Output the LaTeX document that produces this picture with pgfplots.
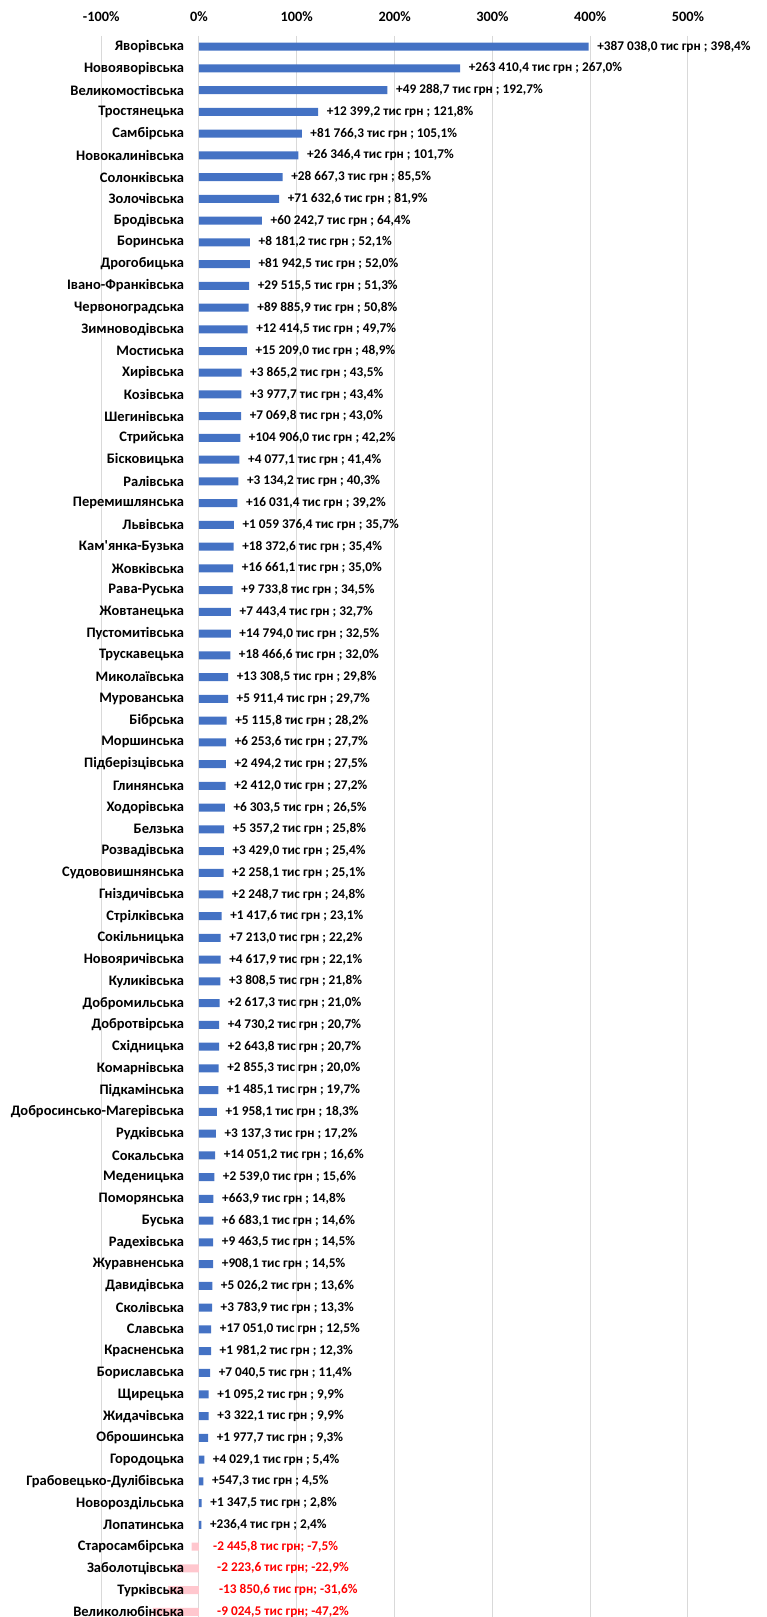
\documentclass[border=0pt]{standalone}
\usepackage{pgfplots}
\pgfplotsset{compat=1.18}
\usepackage{pgfplotstable}
\usepackage{fontspec}
\setmainfont{Carlito}

\definecolor{barblue}{HTML}{4472C4}
\definecolor{barpink}{HTML}{FFC7CE}
\definecolor{gridgray}{HTML}{D9D9D9}
\definecolor{labred}{HTML}{FF0000}

% tick labels above the bars (the pink bars run under the names)
\pgfplotsset{
  layers/labelsontop/.define layer set={
    axis background,axis grid,axis ticks,axis lines,
    pre main,main,axis tick labels,axis descriptions,axis foreground
  }{
    grid style={/pgfplots/on layer=axis grid},
    tick style={/pgfplots/on layer=axis ticks},
    axis line style={/pgfplots/on layer=axis lines},
    label style={/pgfplots/on layer=axis descriptions},
    legend style={/pgfplots/on layer=axis descriptions},
    title style={/pgfplots/on layer=axis descriptions},
    colorbar style={/pgfplots/on layer=axis descriptions},
    ticklabel style={/pgfplots/on layer=axis tick labels},
    axis background@ style={/pgfplots/on layer=axis background},
    3d box foreground style={/pgfplots/on layer=axis foreground},
  },
}

% growth in %, row index from the top, label beside the bar
% (commas and semicolons braced: pgfplots splits its point stream on them)
\pgfplotstableread{
idx val label
0 398.4 {+387 038{,}0 тис грн {;} 398{,}4\%}
1 267.0 {+263 410{,}4 тис грн {;} 267{,}0\%}
2 192.7 {+49 288{,}7 тис грн {;} 192{,}7\%}
3 121.8 {+12 399{,}2 тис грн {;} 121{,}8\%}
4 105.1 {+81 766{,}3 тис грн {;} 105{,}1\%}
5 101.7 {+26 346{,}4 тис грн {;} 101{,}7\%}
6 85.5 {+28 667{,}3 тис грн {;} 85{,}5\%}
7 81.9 {+71 632{,}6 тис грн {;} 81{,}9\%}
8 64.4 {+60 242{,}7 тис грн {;} 64{,}4\%}
9 52.1 {+8 181{,}2 тис грн {;} 52{,}1\%}
10 52.0 {+81 942{,}5 тис грн {;} 52{,}0\%}
11 51.3 {+29 515{,}5 тис грн {;} 51{,}3\%}
12 50.8 {+89 885{,}9 тис грн {;} 50{,}8\%}
13 49.7 {+12 414{,}5 тис грн {;} 49{,}7\%}
14 48.9 {+15 209{,}0 тис грн {;} 48{,}9\%}
15 43.5 {+3 865{,}2 тис грн {;} 43{,}5\%}
16 43.4 {+3 977{,}7 тис грн {;} 43{,}4\%}
17 43.0 {+7 069{,}8 тис грн {;} 43{,}0\%}
18 42.2 {+104 906{,}0 тис грн {;} 42{,}2\%}
19 41.4 {+4 077{,}1 тис грн {;} 41{,}4\%}
20 40.3 {+3 134{,}2 тис грн {;} 40{,}3\%}
21 39.2 {+16 031{,}4 тис грн {;} 39{,}2\%}
22 35.7 {+1 059 376{,}4 тис грн {;} 35{,}7\%}
23 35.4 {+18 372{,}6 тис грн {;} 35{,}4\%}
24 35.0 {+16 661{,}1 тис грн {;} 35{,}0\%}
25 34.5 {+9 733{,}8 тис грн {;} 34{,}5\%}
26 32.7 {+7 443{,}4 тис грн {;} 32{,}7\%}
27 32.5 {+14 794{,}0 тис грн {;} 32{,}5\%}
28 32.0 {+18 466{,}6 тис грн {;} 32{,}0\%}
29 29.8 {+13 308{,}5 тис грн {;} 29{,}8\%}
30 29.7 {+5 911{,}4 тис грн {;} 29{,}7\%}
31 28.2 {+5 115{,}8 тис грн {;} 28{,}2\%}
32 27.7 {+6 253{,}6 тис грн {;} 27{,}7\%}
33 27.5 {+2 494{,}2 тис грн {;} 27{,}5\%}
34 27.2 {+2 412{,}0 тис грн {;} 27{,}2\%}
35 26.5 {+6 303{,}5 тис грн {;} 26{,}5\%}
36 25.8 {+5 357{,}2 тис грн {;} 25{,}8\%}
37 25.4 {+3 429{,}0 тис грн {;} 25{,}4\%}
38 25.1 {+2 258{,}1 тис грн {;} 25{,}1\%}
39 24.8 {+2 248{,}7 тис грн {;} 24{,}8\%}
40 23.1 {+1 417{,}6 тис грн {;} 23{,}1\%}
41 22.2 {+7 213{,}0 тис грн {;} 22{,}2\%}
42 22.1 {+4 617{,}9 тис грн {;} 22{,}1\%}
43 21.8 {+3 808{,}5 тис грн {;} 21{,}8\%}
44 21.0 {+2 617{,}3 тис грн {;} 21{,}0\%}
45 20.7 {+4 730{,}2 тис грн {;} 20{,}7\%}
46 20.7 {+2 643{,}8 тис грн {;} 20{,}7\%}
47 20.0 {+2 855{,}3 тис грн {;} 20{,}0\%}
48 19.7 {+1 485{,}1 тис грн {;} 19{,}7\%}
49 18.3 {+1 958{,}1 тис грн {;} 18{,}3\%}
50 17.2 {+3 137{,}3 тис грн {;} 17{,}2\%}
51 16.6 {+14 051{,}2 тис грн {;} 16{,}6\%}
52 15.6 {+2 539{,}0 тис грн {;} 15{,}6\%}
53 14.8 {+663{,}9 тис грн {;} 14{,}8\%}
54 14.6 {+6 683{,}1 тис грн {;} 14{,}6\%}
55 14.5 {+9 463{,}5 тис грн {;} 14{,}5\%}
56 14.5 {+908{,}1 тис грн {;} 14{,}5\%}
57 13.6 {+5 026{,}2 тис грн {;} 13{,}6\%}
58 13.3 {+3 783{,}9 тис грн {;} 13{,}3\%}
59 12.5 {+17 051{,}0 тис грн {;} 12{,}5\%}
60 12.3 {+1 981{,}2 тис грн {;} 12{,}3\%}
61 11.4 {+7 040{,}5 тис грн {;} 11{,}4\%}
62 9.9 {+1 095{,}2 тис грн {;} 9{,}9\%}
63 9.9 {+3 322{,}1 тис грн {;} 9{,}9\%}
64 9.3 {+1 977{,}7 тис грн {;} 9{,}3\%}
65 5.4 {+4 029{,}1 тис грн {;} 5{,}4\%}
66 4.5 {+547{,}3 тис грн {;} 4{,}5\%}
67 2.8 {+1 347{,}5 тис грн {;} 2{,}8\%}
68 2.4 {+236{,}4 тис грн {;} 2{,}4\%}
}\posdata

\pgfplotstableread{
idx val
69 -7.5
70 -22.9
71 -31.6
72 -47.2
}\negdata

\begin{document}
\begin{tikzpicture}
\begin{axis}[
  set layers=labelsontop,
  scale only axis,
  width=665.8pt, height=1587pt,
  xmin=-100, xmax=580.8,
  ymin=-0.5, ymax=72.5,
  y dir=reverse,
  axis line style={draw=none},
  major tick length=0pt,
  xtick={-100,0,100,200,300,400,500},
  xticklabels={-100\%,0\%,100\%,200\%,300\%,400\%,500\%},
  xticklabel pos=upper,
  xticklabel style={font=\fontsize{14.3}{16}\selectfont\bfseries, anchor=center, yshift=18.8pt},
  ytick={0,...,72},
  yticklabels={Яворівська,Новояворівська,Великомостівська,Тростянецька,Самбірська,
    Новокалинівська,Солонківська,Золочівська,Бродівська,Боринська,Дрогобицька,
    Івано-Франківська,Червоноградська,Зимноводівська,Мостиська,Хирівська,Козівська,
    Шегинівська,Стрийська,Бісковицька,Ралівська,Перемишлянська,Львівська,
    Кам\textquotesingle янка-Бузька,Жовківська,Рава-Руська,Жовтанецька,Пустомитівська,Трускавецька,
    Миколаївська,Мурованська,Бібрська,Моршинська,Підберізцівська,Глинянська,
    Ходорівська,Белзька,Розвадівська,Судововишнянська,Гніздичівська,Стрілківська,
    Сокільницька,Новояричівська,Куликівська,Добромильська,Добротвірська,Східницька,
    Комарнівська,Підкамінська,Добросинсько-Магерівська,Рудківська,Сокальська,
    Меденицька,Поморянська,Буська,Радехівська,Журавненська,Давидівська,Сколівська,
    Славська,Красненська,Бориславська,Щирецька,Жидачівська,Оброшинська,Городоцька,
    Грабовецько-Дулібівська,Новороздільська,Лопатинська,Старосамбірська,
    Заболотцівська,Турківська,Великолюбінська},
  yticklabel style={font=\fontsize{14.5}{16}\selectfont\bfseries, anchor=east, inner sep=0pt, xshift=83pt},
  xmajorgrids,
  grid style={gridgray, line width=1pt},
  xbar, bar width=8pt, bar shift=0pt,
  clip=false,
]
\addplot[draw=none, fill=barblue,
  point meta=explicit symbolic,
  nodes near coords={\pgfplotspointmeta},
  nodes near coords style={font=\fontsize{13.3}{15}\selectfont\bfseries, anchor=west, inner sep=0pt, xshift=8.5pt}]
  table[x=val, y=idx, meta=label] {\posdata};
\addplot[draw=none, fill=barpink]
  table[x=val, y=idx] {\negdata};
\begin{scope}[every node/.style={font=\fontsize{13.3}{15}\selectfont\bfseries, text=labred, anchor=west, inner sep=0pt}]
\node at (axis cs:14.3,69) {-2 445,8 тис грн; -7,5\%};
\node at (axis cs:18.4,70) {-2 223,6 тис грн; -22,9\%};
\node at (axis cs:20.4,71) {-13 850,6 тис грн; -31,6\%};
\node at (axis cs:18.4,72) {-9 024,5 тис грн; -47,2\%};
\end{scope}
\end{axis}
\pgfresetboundingbox
\path[use as bounding box] ([xshift=-101.2pt, yshift=35.8pt]current axis.north west)
  rectangle ([yshift=-1581.2pt]current axis.north east);
\end{tikzpicture}
\end{document}
